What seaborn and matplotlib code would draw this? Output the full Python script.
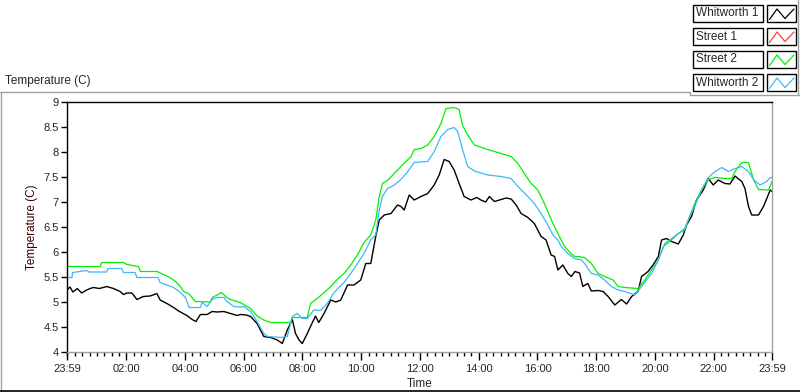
import numpy as np
import pandas as pd
import matplotlib
matplotlib.use("Agg")
import matplotlib.pyplot as plt
from matplotlib.patches import Rectangle
from matplotlib.lines import Line2D
import seaborn as sns

# hours after 23:59 and temperature (C)
whit1_t = [0.00, 0.10, 0.20, 0.35, 0.50, 0.67, 0.79, 0.90, 1.10, 1.30, 1.35, 1.58, 1.81, 1.92,
           2.04, 2.21, 2.38, 2.60, 2.83, 3.06, 3.17, 3.40, 3.63, 3.80, 4.08, 4.26, 4.39, 4.54,
           4.77, 4.94, 5.11, 5.34, 5.56, 5.79, 5.90, 6.10, 6.25, 6.47, 6.70, 6.93, 7.16, 7.33,
           7.50, 7.67, 7.78, 7.90, 8.01, 8.18, 8.29, 8.46, 8.57, 8.75, 8.98, 9.15, 9.32, 9.55,
           9.77, 10.00, 10.17, 10.34, 10.51, 10.63, 10.80, 11.03, 11.25, 11.37, 11.48, 11.65,
           11.82, 12.05, 12.28, 12.50, 12.67, 12.84, 13.01, 13.18, 13.35, 13.52, 13.75, 13.95,
           14.09, 14.25, 14.38, 14.55, 14.78, 14.95, 15.12, 15.29, 15.46, 15.69, 15.91, 16.14,
           16.31, 16.48, 16.60, 16.71, 16.88, 17.05, 17.17, 17.29, 17.45, 17.56, 17.73, 17.85,
           18.08, 18.25, 18.42, 18.65, 18.87, 19.05, 19.22, 19.44, 19.56, 19.78, 19.95, 20.13,
           20.24, 20.41, 20.58, 20.81, 20.98, 21.09, 21.26, 21.43, 21.66, 21.83, 22.00, 22.17,
           22.40, 22.57, 22.74, 22.97, 23.08, 23.20, 23.31, 23.54, 23.71, 23.94, 24.00]
whit1_v = [5.24, 5.30, 5.20, 5.27, 5.18, 5.24, 5.27, 5.29, 5.27, 5.30, 5.31, 5.27, 5.21, 5.15,
           5.18, 5.18, 5.05, 5.11, 5.12, 5.17, 5.04, 4.97, 4.89, 4.82, 4.73, 4.65, 4.61, 4.75,
           4.75, 4.81, 4.80, 4.81, 4.77, 4.73, 4.75, 4.74, 4.71, 4.57, 4.31, 4.29, 4.24, 4.17,
           4.44, 4.65, 4.37, 4.24, 4.17, 4.37, 4.51, 4.72, 4.59, 4.77, 5.04, 5.00, 5.04, 5.34,
           5.34, 5.44, 5.77, 5.77, 6.31, 6.64, 6.74, 6.77, 6.94, 6.91, 6.84, 7.14,
           7.04, 7.11, 7.17, 7.34, 7.54, 7.85, 7.81, 7.64, 7.37, 7.11, 7.04, 7.09,
           7.04, 7.00, 7.11, 7.01, 7.05, 7.08, 7.06, 6.94, 6.77, 6.69, 6.57, 6.31,
           6.24, 5.94, 5.91, 5.64, 5.74, 5.57, 5.51, 5.61, 5.58, 5.31, 5.37, 5.22,
           5.23, 5.21, 5.11, 4.94, 5.05, 4.96, 5.11, 5.21, 5.51, 5.61, 5.74, 5.91,
           6.24, 6.27, 6.21, 6.16, 6.34, 6.54, 6.71, 7.04, 7.24, 7.47, 7.34, 7.44,
           7.37, 7.36, 7.52, 7.41, 7.27, 6.91, 6.74, 6.74, 6.91, 7.24, 7.21]

street1_t = []
street1_v = []

street2_t = [0.00, 1.13, 1.18, 1.92, 2.04, 2.43, 2.50, 3.07, 3.17, 3.50, 3.69, 3.86, 3.97, 4.14,
             4.37, 4.88, 4.94, 5.11, 5.26, 5.40, 5.56, 5.90, 6.25, 6.47, 6.70, 6.93, 7.61, 7.67,
             8.18, 8.29, 8.52, 8.75, 8.98, 9.20, 9.43, 9.66, 9.89, 10.11, 10.34, 10.51, 10.63,
             10.74, 10.91, 11.14, 11.37, 11.54, 11.71, 11.82, 12.05, 12.28, 12.50, 12.73, 12.90,
             13.18, 13.35, 13.46, 13.64, 13.87, 14.32, 14.78, 15.12, 15.35, 15.57, 15.80, 16.03,
             16.25, 16.49, 16.71, 16.94, 17.16, 17.28, 17.40, 17.62, 17.85, 18.08, 18.30, 18.59,
             18.76, 18.99, 19.44, 19.67, 19.90, 20.13, 20.30, 20.52, 20.81, 21.03, 21.15, 21.37,
             21.60, 21.83, 22.06, 22.40, 22.63, 22.74, 22.97, 23.20, 23.37, 23.54, 23.88, 24.00]
street2_v = [5.71, 5.71, 5.79, 5.79, 5.75, 5.71, 5.61, 5.61, 5.58, 5.49, 5.41, 5.31, 5.21, 5.17,
             5.01, 5.00, 5.09, 5.14, 5.19, 5.11, 5.05, 4.99, 4.87, 4.72, 4.64, 4.59, 4.59, 4.69,
             4.69, 4.97, 5.07, 5.19, 5.31, 5.45, 5.57, 5.74, 5.94, 6.19, 6.34, 6.64, 7.11,
             7.37, 7.43, 7.57, 7.71, 7.81, 7.91, 8.05, 8.07, 8.14, 8.31, 8.57, 8.87,
             8.89, 8.85, 8.54, 8.34, 8.14, 8.05, 7.97, 7.91, 7.77, 7.57, 7.37, 7.24,
             6.97, 6.64, 6.37, 6.11, 5.97, 5.91, 5.91, 5.89, 5.77, 5.57, 5.51, 5.44,
             5.31, 5.29, 5.27, 5.44, 5.64, 5.84, 6.11, 6.21, 6.37, 6.44, 6.64, 6.97,
             7.24, 7.45, 7.49, 7.47, 7.47, 7.61, 7.79, 7.79, 7.45, 7.25, 7.24, 7.41]

whit2_t = [0.00, 0.17, 0.19, 0.67, 0.75, 1.35, 1.40, 1.87, 1.92, 2.32, 2.38, 3.10, 3.17, 3.63,
           3.86, 4.03, 4.16, 4.54, 4.60, 4.77, 4.94, 5.11, 5.34, 5.45, 5.68, 5.90, 6.02, 6.25,
           6.47, 6.70, 6.82, 7.27, 7.50, 7.67, 7.84, 8.01, 8.18, 8.40, 8.63, 8.86, 9.09, 9.43,
           9.66, 9.89, 10.11, 10.34, 10.51, 10.63, 10.74, 10.91, 11.14, 11.37, 11.59, 11.82,
           12.28, 12.50, 12.73, 12.96, 13.18, 13.30, 13.47, 13.64, 13.87, 14.32, 14.78, 15.12,
           15.35, 15.69, 15.91, 16.14, 16.37, 16.54, 16.71, 16.83, 17.05, 17.28, 17.51, 17.62,
           17.85, 18.08, 18.30, 18.53, 18.76, 18.99, 19.33, 19.56, 19.90, 20.13, 20.35, 20.58,
           20.81, 21.03, 21.20, 21.37, 21.60, 21.83, 22.06, 22.29, 22.52, 22.74, 22.97, 23.20,
           23.37, 23.59, 23.82, 23.94, 24.00]
whit2_v = [5.49, 5.49, 5.59, 5.63, 5.60, 5.60, 5.67, 5.67, 5.59, 5.59, 5.49, 5.49, 5.39, 5.29,
           5.19, 5.09, 4.89, 4.89, 4.99, 4.91, 5.05, 5.09, 5.09, 5.01, 4.91, 4.90, 4.91, 4.81,
           4.61, 4.37, 4.31, 4.29, 4.31, 4.71, 4.77, 4.67, 4.67, 4.84, 4.83, 4.97, 5.19, 5.39,
           5.57, 5.77, 5.97, 6.24, 6.34, 6.84, 7.11, 7.27, 7.34, 7.45, 7.60, 7.79,
           7.81, 8.01, 8.31, 8.45, 8.49, 8.41, 8.04, 7.71, 7.62, 7.54, 7.51, 7.47,
           7.31, 7.11, 6.97, 6.77, 6.54, 6.34, 6.24, 6.11, 5.97, 5.87, 5.84, 5.77,
           5.57, 5.54, 5.44, 5.31, 5.24, 5.21, 5.14, 5.31, 5.57, 5.84, 6.17, 6.27,
           6.37, 6.47, 6.71, 6.91, 7.24, 7.49, 7.61, 7.69, 7.61, 7.67, 7.71, 7.61,
           7.45, 7.34, 7.41, 7.49, 7.49]

names = ["Whitworth 1", "Street 1", "Street 2", "Whitworth 2"]
colors = ["#000000", "#ff3c3c", "#00f000", "#3cb8f8"]

major_pos = [0] + [2 + 1 / 60 + 2 * k for k in range(11)] + [24]
major_lab = ["23:59"] + ["%02d:00" % h for h in range(2, 24, 2)] + ["23:59"]
y_ticks = [4, 4.5, 5, 5.5, 6, 6.5, 7, 7.5, 8, 8.5, 9]

W, H = 800, 392


def px(x, y):
    # pixel position (from top-left) to figure fraction
    return x / W, 1 - y / H


frames = []
for name, t, v in zip(names, [whit1_t, street1_t, street2_t, whit2_t],
                      [whit1_v, street1_v, street2_v, whit2_v]):
    frames.append(pd.DataFrame({"hours": t, "temp": v, "sensor": name}))
df = pd.concat(frames, ignore_index=True)

sns.set_style("white")
plt.rcParams["font.family"] = ["Liberation Sans", "DejaVu Sans"]

fig = plt.figure(figsize=(8, 3.92), dpi=100)
ax = fig.add_axes([67 / W, 40 / H, 705 / W, 250 / H])

# black, green, blue drawing order like the original (blue over green over black)
for name in ["Whitworth 1", "Street 1", "Street 2", "Whitworth 2"]:
    sub = df[df["sensor"] == name]
    if len(sub) == 0:
        continue
    sns.lineplot(data=sub, x="hours", y="temp", color=colors[names.index(name)],
                 linewidth=1.0 if name == "Whitworth 1" else 0.9, ax=ax, sort=True)

ax.set_xlim(0, 24)
ax.set_ylim(4, 9)
ax.set_xticks(major_pos)
ax.set_xticklabels(major_lab)
ax.set_xticks([1 / 60 + 0.25 * k for k in range(96) if 0 < 1 / 60 + 0.25 * k < 24], minor=True)
ax.set_yticks(y_ticks)
ax.set_yticklabels(["%g" % y for y in y_ticks])
ax.tick_params(axis="x", which="major", length=6, width=1, direction="out", color="black",
               labelsize=8, pad=3, bottom=True)
ax.tick_params(axis="x", which="minor", length=3, width=1, direction="out", color="black",
               bottom=True)
ax.tick_params(axis="y", which="major", length=4, width=1, direction="out", color="black",
               labelsize=8, pad=2, left=True)

for side, col in [("top", "black"), ("left", "black"), ("bottom", "#a0a0a0"), ("right", "#a0a0a0")]:
    ax.spines[side].set_color(col)
    ax.spines[side].set_linewidth(1)

ax.set_xlabel("Time", fontsize=8.5)
ax.xaxis.set_label_coords(0.5, -0.105)
ax.xaxis.label.set_va("top")
ax.set_ylabel("Temperature (C)", fontsize=8.5, color="#3a0000")
ax.yaxis.set_label_coords(-0.041, 0.5)

fig.text(*px(5, 81), "Temperature (C)", fontsize=8.5, va="center", ha="left")

# sunken frame around the chart
grey = "#a0a0a0"
fig.add_artist(Line2D([px(0, 92)[0], px(690, 92)[0]], [px(0, 92)[1]] * 2, color=grey, lw=1))
fig.add_artist(Line2D([px(1, 92)[0]] * 2, [px(1, 92)[1], px(1, 392)[1]], color=grey, lw=1))
fig.add_artist(Line2D([0, 1], [px(0, 391)[1]] * 2, color="black", lw=1.2))
fig.add_artist(Line2D([px(690, 0)[0]] * 2, [px(0, 92)[1], px(0, 95)[1]], color=grey, lw=1))
fig.add_artist(Line2D([px(690, 95)[0], 1], [px(0, 95)[1]] * 2, color=grey, lw=1))
fig.add_artist(Line2D([px(798, 0)[0]] * 2, [1, px(0, 95)[1]], color=grey, lw=1))

# legend made of text boxes and sample boxes
for i, name in enumerate(names):
    top = 5 + 23 * i
    x0, y0 = px(693, top + 17)
    fig.add_artist(Rectangle((x0, y0), 70 / W, 17 / H, transform=fig.transFigure,
                             facecolor="white", edgecolor="black", lw=1))
    fig.text(*px(696, top + 8.5), name, fontsize=8.5, va="center", ha="left")
    x1, y1 = px(767, top + 17)
    fig.add_artist(Rectangle((x1, y1), 29 / W, 17 / H, transform=fig.transFigure,
                             facecolor="white", edgecolor="black", lw=1))
    zx = [769.5, 777, 785, 794]
    zy = [top + 14.5, top + 4, top + 13.5, top + 4]
    fig.add_artist(Line2D([px(a, b)[0] for a, b in zip(zx, zy)],
                          [px(a, b)[1] for a, b in zip(zx, zy)], color=colors[i], lw=0.9))

fig.savefig("out.png", dpi=100)
